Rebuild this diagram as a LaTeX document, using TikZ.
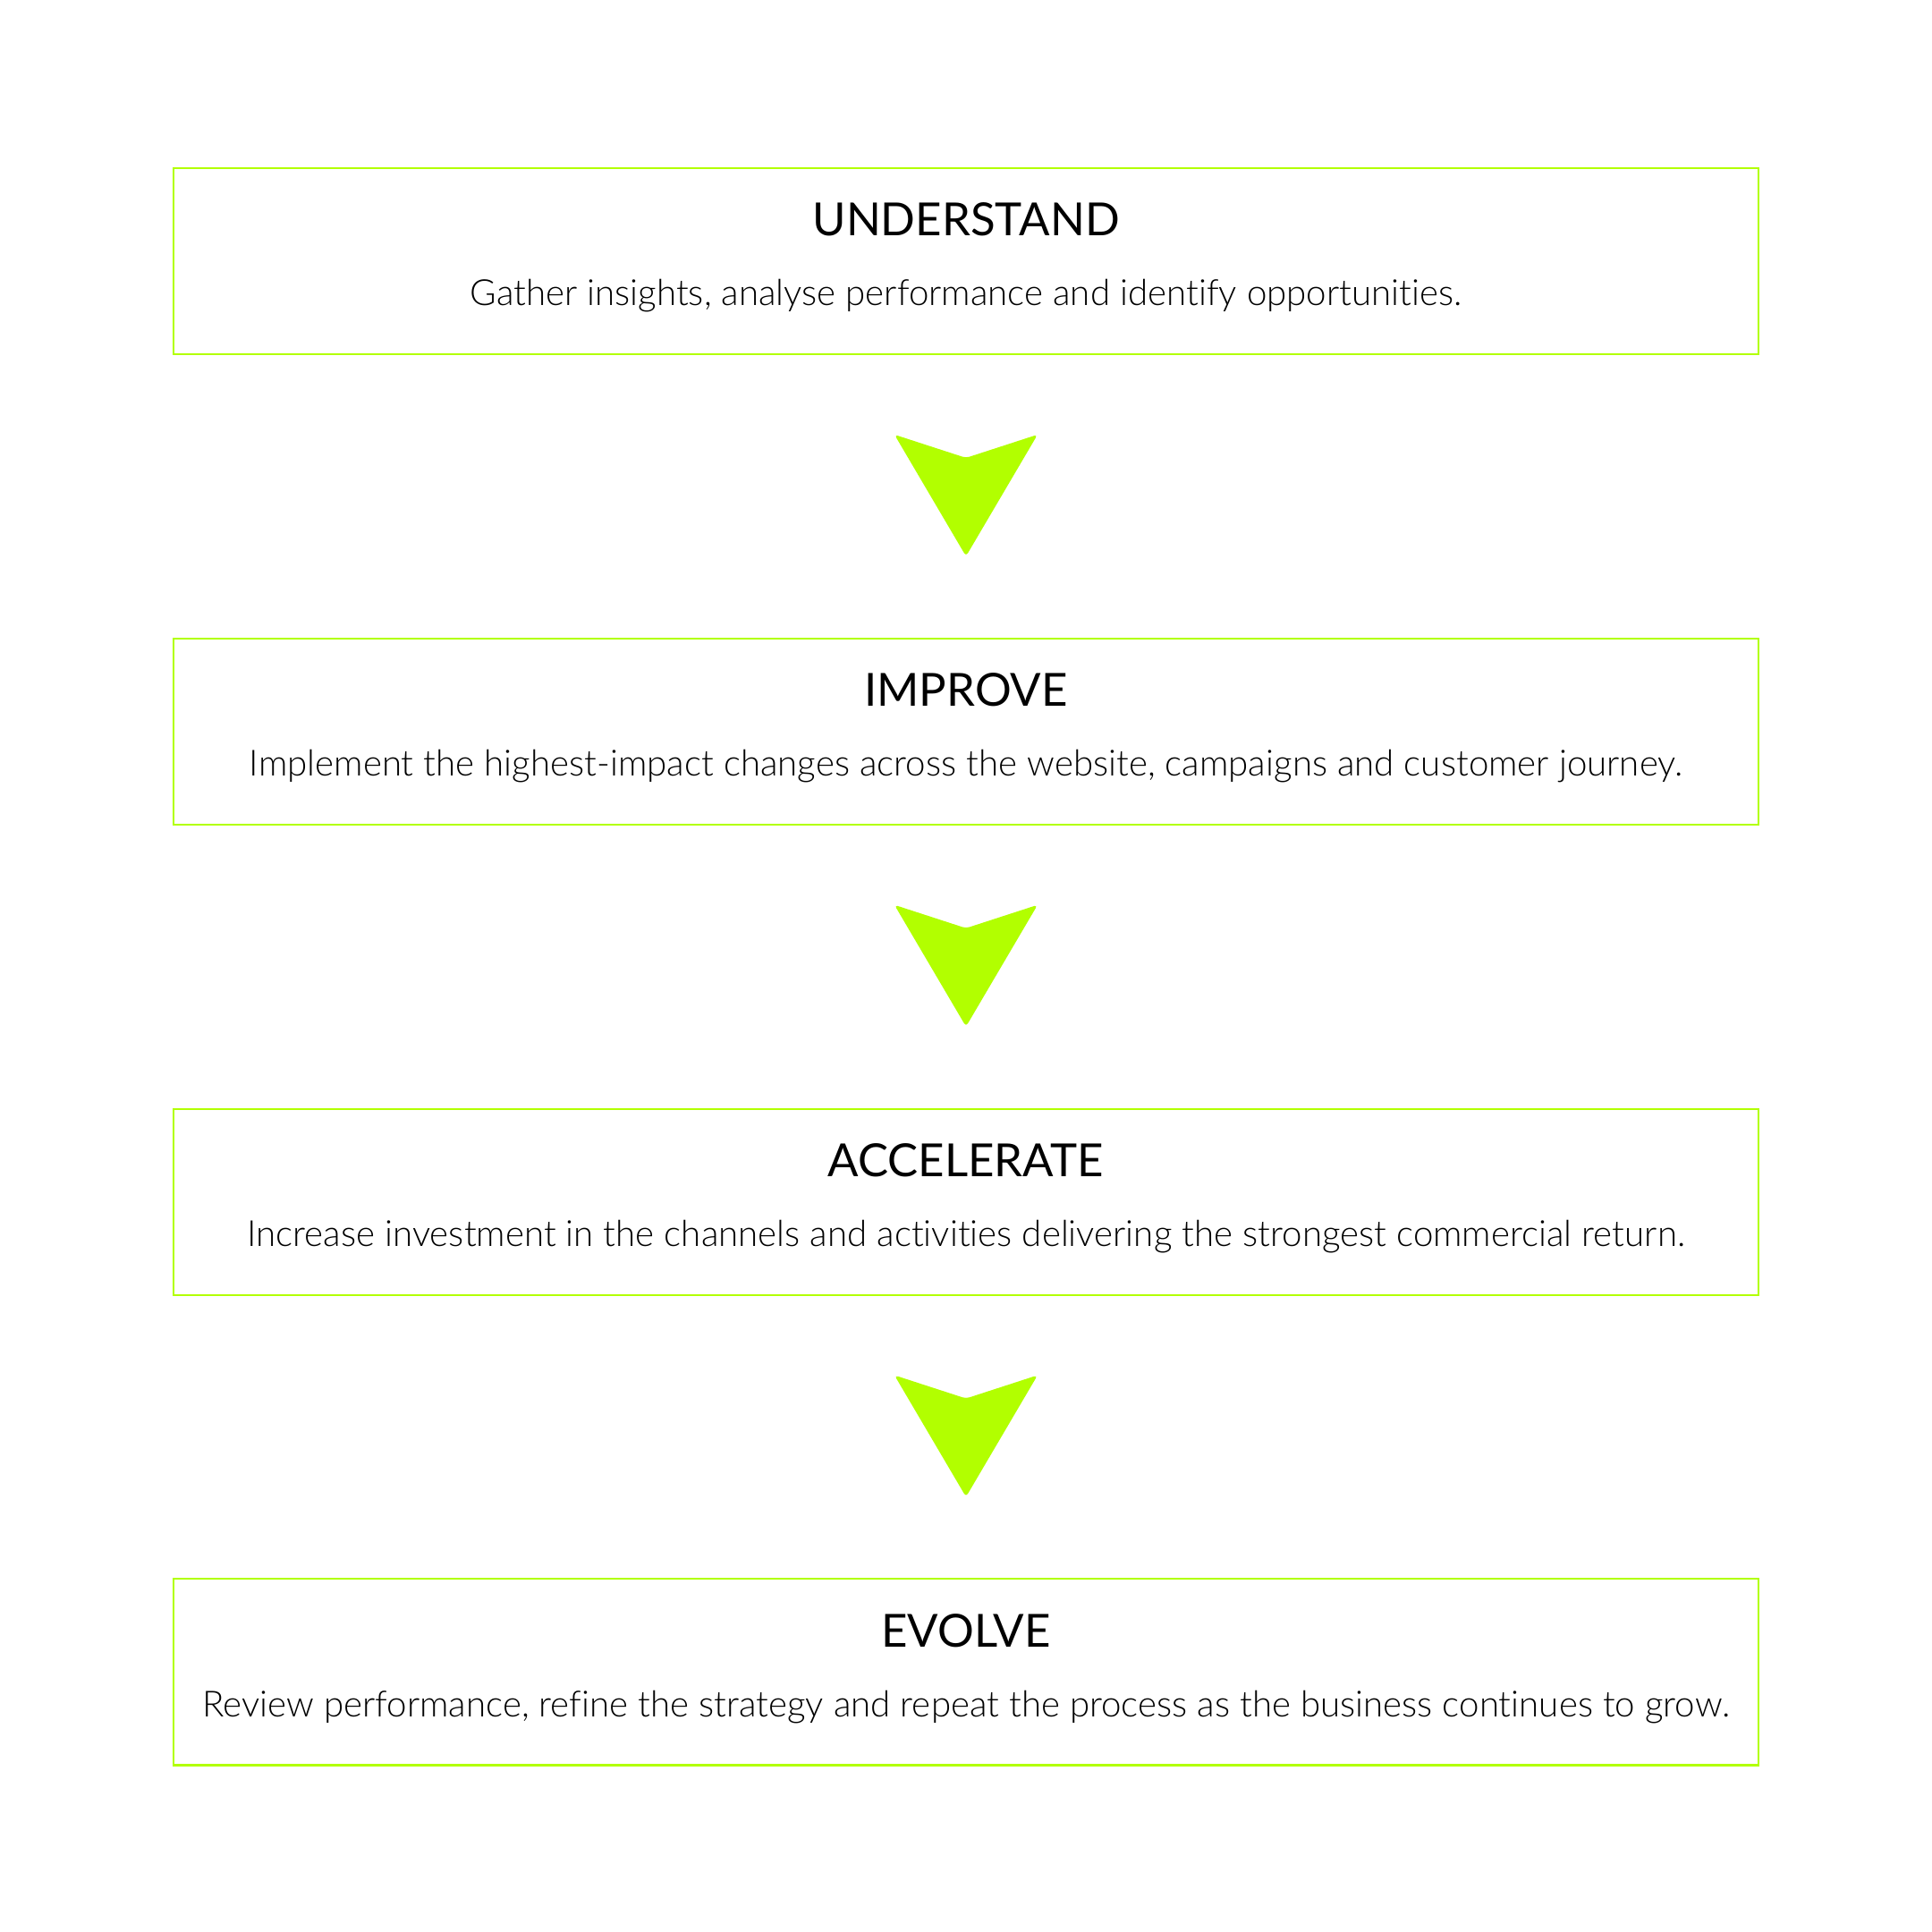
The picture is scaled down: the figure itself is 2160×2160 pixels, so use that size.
\documentclass[tikz,border=0pt]{standalone}
\usepackage{fontspec}
\usepackage{xcolor}
\usepackage{tikz}
\usetikzlibrary{positioning,calc}
\setmainfont{Lato}
\newfontfamily\lightfont{Lato Light}[Ligatures=NoCommon]
\definecolor{limegreen}{RGB}{178,255,0}
\tikzset{
  stagebox/.style={draw=limegreen, line width=0.02cm, minimum width=17.7cm, minimum height=2.08cm, inner sep=0pt},
  stagetitle/.style={anchor=base, inner sep=0pt, font=\fontsize{14.5}{17}\selectfont},
  stagetext/.style={anchor=base, inner sep=0pt, font=\lightfont\fontsize{11.45}{14}\selectfont},
  chevron/.style={fill=limegreen, rounded corners=0.04cm}
}
\begin{document}
\begin{tikzpicture}[x={(0.01cm,0)}, y={(0,-0.01cm)}]
    \useasboundingbox (0,0) rectangle (2160,2160);
    % stages
    \node[stagebox] (understand) at (1080,292) {};
    \node[stagebox, below=3.155cm of understand] (improve) {};
    \node[stagebox, below=3.155cm of improve] (accelerate) {};
    \node[stagebox, below=3.155cm of accelerate] (evolve) {};
    \node[stagetitle] (understand-title) at ($(understand.north)+(0,77)$) {UNDERSTAND};
    \node[stagetitle] (improve-title) at ($(improve.north)+(0,77)$) {IMPROVE};
    \node[stagetitle] (accelerate-title) at ($(accelerate.north)+(0,77)$) {ACCELERATE};
    \node[stagetitle] (evolve-title) at ($(evolve.north)+(0,77)$) {EVOLVE};
    \node[stagetext] (understand-text) at ($(understand.north)+(0,155)$) {Gather insights, analyse performance and identify opportunities.};
    \node[stagetext] (improve-text) at ($(improve.north)+(0,155)$) {Implement the highest-impact changes across the website, campaigns and customer journey.};
    \node[stagetext] (accelerate-text) at ($(accelerate.north)+(0,155)$) {Increase investment in the channels and activities delivering the strongest commercial return.};
    \node[stagetext] (evolve-text) at ($(evolve.north)+(0,155)$) {Review performance, refine the strategy and repeat the process as the business continues to grow.};
    % arrows between stages
    \foreach \a/\b in {understand/improve, improve/accelerate, accelerate/evolve} {
      \coordinate (\a-mid) at ($(\a.south)!0.5!(\b.north)$);
      \fill[chevron] ($(\a-mid)+(-80,-69)$) -- ($(\a-mid)+(0,-43)$) -- ($(\a-mid)+(80,-69)$) -- ($(\a-mid)+(0,67)$) -- cycle;
    }
  \end{tikzpicture}
\end{document}
